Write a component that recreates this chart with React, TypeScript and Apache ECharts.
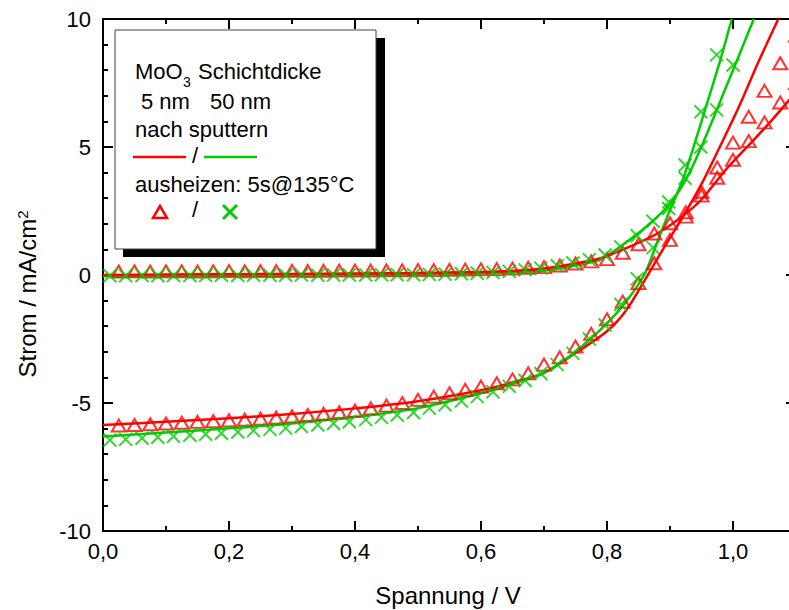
import React, { useEffect, useRef } from "react";
import * as echarts from "echarts";

const RED = "#ff0000";
const GREEN = "#00cc00";
const FONT = "'Liberation Sans', Arial, sans-serif";

// Lines: "nach sputtern" (fits)
const lightRedV = [0, 0.1, 0.2, 0.3, 0.4, 0.5, 0.6, 0.65, 0.7, 0.75, 0.8, 0.83, 0.86, 0.89, 0.92, 0.95, 0.98, 1.01, 1.04, 1.072];
const lightRedI = [-5.86, -5.73, -5.6, -5.43, -5.21, -4.93, -4.5, -4.2, -3.82, -3.05, -2.2, -1.4, -0.2, 1.05, 2.25, 3.55, 5.05, 6.6, 8.3, 10.0];
const lightGreenV = [0, 0.1, 0.2, 0.3, 0.4, 0.5, 0.6, 0.65, 0.7, 0.75, 0.8, 0.83, 0.86, 0.88, 0.9, 0.92, 0.94, 0.96, 0.98, 0.998];
const lightGreenI = [-6.31, -6.15, -5.99, -5.8, -5.55, -5.2, -4.62, -4.25, -3.82, -3.0, -1.89, -1.05, 0.05, 1.3, 2.54, 3.7, 5.2, 6.8, 8.4, 10.0];
const darkRedV = [0, 0.1, 0.2, 0.3, 0.4, 0.5, 0.6, 0.65, 0.7, 0.75, 0.79, 0.84, 0.88, 0.92, 0.95, 0.99, 1.03, 1.06, 1.1];
const darkRedI = [0.0, 0.02, 0.03, 0.04, 0.06, 0.08, 0.12, 0.16, 0.25, 0.45, 0.66, 1.15, 1.62, 2.3, 2.95, 4.15, 5.2, 6.0, 7.15];
const darkGreenV = [0, 0.1, 0.2, 0.3, 0.4, 0.5, 0.6, 0.65, 0.7, 0.75, 0.79, 0.84, 0.87, 0.9, 0.93, 0.96, 0.99, 1.01, 1.033];
const darkGreenI = [-0.05, -0.04, -0.03, -0.02, 0.0, 0.02, 0.06, 0.1, 0.17, 0.37, 0.62, 1.45, 2.05, 2.78, 3.95, 5.6, 7.4, 8.6, 10.0];

// Markers: "ausheizen: 5s@135°C"
const triV = [0.025, 0.05, 0.075, 0.1, 0.125, 0.15, 0.175, 0.2, 0.225, 0.25, 0.275, 0.3, 0.325, 0.35, 0.375, 0.4, 0.425, 0.45, 0.475, 0.5,
  0.525, 0.55, 0.575, 0.6, 0.625, 0.65, 0.675, 0.7, 0.725, 0.75, 0.775, 0.8, 0.825, 0.85, 0.875, 0.9, 0.925, 0.95, 0.975, 1.0, 1.025, 1.05, 1.075, 1.1];
const triDark = [0.13, 0.14, 0.13, 0.14, 0.14, 0.13, 0.14, 0.15, 0.14, 0.15, 0.15, 0.16, 0.15, 0.16, 0.17, 0.17, 0.17, 0.18, 0.18, 0.19,
  0.19, 0.2, 0.21, 0.22, 0.23, 0.25, 0.28, 0.31, 0.37, 0.45, 0.53, 0.62, 0.87, 1.2, 1.62, 2.02, 2.45, 3.1, 3.8, 4.5, 5.23, 5.96, 6.74, 7.5];
const triLight = [-5.88, -5.86, -5.83, -5.8, -5.77, -5.74, -5.71, -5.68, -5.65, -5.61, -5.57, -5.52, -5.47, -5.42, -5.36, -5.3, -5.21, -5.1, -5.0, -4.88,
  -4.75, -4.62, -4.49, -4.36, -4.23, -4.08, -3.84, -3.5, -3.22, -2.8, -2.3, -1.73, -1.04, -0.32, 0.46, 1.37, 2.28, 3.25, 4.2, 5.17, 6.18, 7.19, 8.27, 9.35];
const crossV = [0.011, 0.036, 0.062, 0.087, 0.112, 0.138, 0.163, 0.188, 0.214, 0.239, 0.265, 0.29, 0.315, 0.341, 0.366, 0.391, 0.417, 0.442, 0.467, 0.493,
  0.518, 0.543, 0.569, 0.594, 0.619, 0.645, 0.67, 0.695, 0.721, 0.746, 0.772, 0.797, 0.822, 0.848, 0.873, 0.898, 0.924, 0.949, 0.974, 1.0];
const crossDark = [-0.03, -0.03, -0.02, -0.03, -0.02, -0.02, -0.02, -0.01, -0.02, -0.01, -0.01, -0.01, 0.0, -0.01, 0.0, 0.0, 0.0, 0.01, 0.01, 0.01,
  0.02, 0.03, 0.05, 0.07, 0.1, 0.14, 0.2, 0.27, 0.36, 0.47, 0.6, 0.78, 1.1, 1.53, 2.1, 2.85, 3.78, 5.0, 6.45, 8.2];
const crossLight = [-6.45, -6.42, -6.38, -6.34, -6.3, -6.26, -6.22, -6.18, -6.13, -6.08, -6.03, -5.98, -5.92, -5.86, -5.8, -5.73, -5.65, -5.56, -5.47, -5.37,
  -5.2, -5.07, -4.92, -4.75, -4.56, -4.35, -4.12, -3.85, -3.5, -3.06, -2.5, -1.95, -1.15, -0.15, 1.07, 2.6, 4.3, 6.38, 8.6];

const pairs = (xs: number[], ys: number[]) => ys.map((y, i) => [xs[i], y]);

const X_SYMBOL = "path://M0,0L10,10M10,0L0,10";

function lineSeries(name: string, xs: number[], ys: number[], color: string) {
  return {
    name,
    type: "line",
    data: pairs(xs, ys),
    showSymbol: false,
    smooth: 0.3,
    lineStyle: { color, width: 2.5 },
    itemStyle: { color },
    clip: true,
    z: 2,
  };
}

function triSeries(name: string, xs: number[], ys: number[]) {
  return {
    name,
    type: "scatter",
    data: pairs(xs, ys),
    symbol: "triangle",
    symbolSize: [14, 12],
    itemStyle: { color: "rgba(0,0,0,0)", borderColor: RED, borderWidth: 2 },
    clip: true,
    z: 3,
  };
}

function crossSeries(name: string, xs: number[], ys: number[]) {
  return {
    name,
    type: "scatter",
    data: pairs(xs, ys),
    symbol: X_SYMBOL,
    symbolSize: 13,
    itemStyle: { color: "rgba(0,0,0,0)", borderColor: GREEN, borderWidth: 2 },
    clip: true,
    z: 4,
  };
}

const fmtX = (v: number) => {
  if (Math.abs(v * 5 - Math.round(v * 5)) > 1e-6) return "";
  return v.toFixed(1).replace(".", ",");
};

const axisLineStyle = { color: "#000", width: 2 };

function App() {
  const ref = useRef<HTMLDivElement>(null);
  useEffect(() => {
    document.body.style.margin = "0";
    if (!ref.current) return;
    const chart = echarts.init(ref.current, undefined, { renderer: "svg" });
    const majorX = (position: string, showLabel: boolean) => ({
      type: "value",
      position,
      min: 0,
      max: 1.1,
      interval: 0.2,
      axisLine: { show: true, onZero: false, lineStyle: axisLineStyle },
      axisTick: { show: true, inside: true, length: 10, lineStyle: { color: "#000", width: 2 } },
      minorTick: { show: false },
      splitLine: { show: false },
      axisLabel: showLabel
        ? { show: true, formatter: fmtX, fontSize: 22, color: "#000", fontFamily: FONT, margin: 9 }
        : { show: false },
    });
    const minorX = (position: string) => ({
      type: "value",
      position,
      min: 0,
      max: 1.1,
      interval: 0.1,
      axisLine: { show: false, onZero: false },
      axisTick: { show: true, inside: true, length: 5, lineStyle: { color: "#000", width: 2 } },
      splitLine: { show: false },
      axisLabel: { show: false },
    });
    const yAx = (position: string, showLabel: boolean) => ({
      type: "value",
      position,
      min: -10,
      max: 10,
      interval: 5,
      axisLine: { show: true, onZero: false, lineStyle: axisLineStyle },
      axisTick: { show: true, inside: true, length: 10, lineStyle: { color: "#000", width: 2 } },
      minorTick: { show: true, splitNumber: 5, length: 5, lineStyle: { color: "#000", width: 2 } },
      splitLine: { show: false },
      axisLabel: showLabel
        ? { show: true, fontSize: 22, color: "#000", fontFamily: FONT, margin: 12 }
        : { show: false },
    });
    const txt = (text: string, x: number, y: number, size = 22, align = "left") => ({
      type: "text",
      x,
      y,
      z: 101,
      style: {
        text,
        fill: "#000",
        fontSize: size,
        fontFamily: FONT,
        textAlign: align,
        align,
        textVerticalAlign: "middle",
        verticalAlign: "middle",
      },
    });
    chart.setOption({
      animation: false,
      backgroundColor: "#fff",
      grid: { left: 103, top: 19, width: 693, height: 512, containLabel: false },
      xAxis: [majorX("bottom", true), minorX("bottom"), majorX("top", false), minorX("top")],
      yAxis: [yAx("left", true), yAx("right", false)],
      series: [
        lineSeries("dunkel 50 nm", darkGreenV, darkGreenI, GREEN),
        lineSeries("dunkel 5 nm", darkRedV, darkRedI, RED),
        lineSeries("hell 5 nm", lightRedV, lightRedI, RED),
        lineSeries("hell 50 nm", lightGreenV, lightGreenI, GREEN),
        triSeries("ausgeheizt dunkel 5 nm", triV, triDark),
        triSeries("ausgeheizt hell 5 nm", triV, triLight),
        crossSeries("ausgeheizt dunkel 50 nm", crossV, crossDark),
        crossSeries("ausgeheizt hell 50 nm", crossV.slice(0, crossLight.length), crossLight),
      ],
      graphic: [
        {
          type: "text",
          x: 27,
          y: 294,
          rotation: Math.PI / 2,
          style: {
            text: "Strom / mA/cm{sup|2}",
            fill: "#000",
            fontSize: 24,
            fontFamily: FONT,
            textAlign: "center",
            align: "center",
            textVerticalAlign: "middle",
            verticalAlign: "middle",
            rich: {
              sup: { fontSize: 15, fontFamily: FONT, fill: "#000", verticalAlign: "top", lineHeight: 24 },
            },
          },
        },
        {
          type: "text",
          x: 448,
          y: 595,
          style: {
            text: "Spannung / V",
            fill: "#000",
            fontSize: 24,
            fontFamily: FONT,
            textAlign: "center",
            align: "center",
            textVerticalAlign: "middle",
            verticalAlign: "middle",
          },
        },
        { type: "rect", z: 100, shape: { x: 123, y: 38, width: 262, height: 219 }, style: { fill: "#000" } },
        { type: "rect", z: 100, shape: { x: 115, y: 30, width: 261, height: 219 }, style: { fill: "#fff", stroke: "#444", lineWidth: 1 } },
        txt("MoO", 135, 71.5),
        txt("3", 183, 82, 14),
        txt("Schichtdicke", 198, 71.5),
        txt("5 nm", 141, 101),
        txt("50 nm", 210, 101),
        txt("nach sputtern", 135, 129),
        { type: "line", z: 101, shape: { x1: 133, y1: 157, x2: 186, y2: 157 }, style: { stroke: RED, lineWidth: 2.5 } },
        txt("/", 195, 155.5, 22, "center"),
        { type: "line", z: 101, shape: { x1: 204, y1: 157, x2: 257, y2: 157 }, style: { stroke: GREEN, lineWidth: 2.5 } },
        txt("ausheizen: 5s@135°C", 135, 184),
        {
          type: "polygon",
          z: 101,
          shape: { points: [[153, 218], [167, 218], [160, 206]] },
          style: { fill: "none", stroke: RED, lineWidth: 2.5 },
        },
        txt("/", 195, 209, 22, "center"),
        { type: "line", z: 101, shape: { x1: 223, y1: 205, x2: 237, y2: 219 }, style: { stroke: GREEN, lineWidth: 3 } },
        { type: "line", z: 101, shape: { x1: 237, y1: 205, x2: 223, y2: 219 }, style: { stroke: GREEN, lineWidth: 3 } },
      ],
    });
    return () => chart.dispose();
  }, []);
  return (
    <div style={{ width: 789, height: 610, overflow: "hidden", position: "relative", background: "#fff" }}>
      <div ref={ref} style={{ width: 800, height: 610 }} />
    </div>
  );
}

export default App;
